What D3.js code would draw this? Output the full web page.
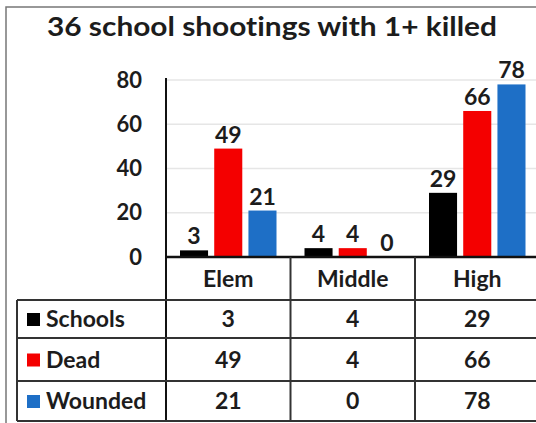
<!DOCTYPE html>
<html><head><meta charset="utf-8">
<script src="https://cdn.jsdelivr.net/npm/d3@7"></script>
<style>
html,body{margin:0;padding:0;background:#fff;}
svg{display:block;}
text{font-family:Lato,"Open Sans",sans-serif;font-weight:bold;fill:#1c1c1c;font-variant-ligatures:none;font-feature-settings:"liga" 0;}
</style></head>
<body>
<svg id="c" width="536" height="423"></svg>
<script>
const title = "36 school shootings with 1+ killed";
const categories = ["Elem", "Middle", "High"];
const seriesNames = ["Schools", "Dead", "Wounded"];
const schools = [3, 4, 29];
const dead = [49, 4, 66];
const wounded = [21, 0, 78];
const yTicks = [0, 20, 40, 60, 80];
const colors = ["#000000", "#f40000", "#1e6fc6"];

const seriesValues = [schools, dead, wounded];
const svg = d3.select("#c");

// outer frame
svg.append("path").attr("d","M6,423 V7 H536").attr("fill","none").attr("stroke","#777").attr("stroke-width",1.5);

// title
svg.append("text").attr("x",272).attr("y",36).attr("text-anchor","middle")
  .attr("font-size",27).attr("textLength",450).attr("lengthAdjust","spacingAndGlyphs").text(title);

const x0 = d3.scaleBand().domain(categories).range([166, 539.5]).padding(0);
const x1 = d3.scaleBand().domain(seriesNames).range([14, 110.5]).paddingInner(0.18).paddingOuter(0);
const y = d3.scaleLinear().domain([0, 80]).range([257, 80]);

// gridlines
svg.append("g").selectAll("line").data(yTicks.filter(d=>d>0)).join("line")
  .attr("x1",166).attr("x2",536).attr("y1",d=>y(d)).attr("y2",d=>y(d))
  .attr("stroke","#e6e6e6").attr("stroke-width",1.5);

// y axis via d3.axisLeft
const yAxis = svg.append("g").attr("transform","translate(166,0)")
  .call(d3.axisLeft(y).tickValues(yTicks).tickSize(0).tickPadding(24));
yAxis.select(".domain").remove();
yAxis.selectAll("text").attr("font-size",22).attr("font-family","Lato,'Open Sans',sans-serif").attr("font-weight","bold").attr("fill","#1c1c1c");

// bars
const rows = [];
categories.forEach((c,i)=>seriesNames.forEach((s,j)=>rows.push({c,s,v:seriesValues[j][i],j})));
svg.append("g").selectAll("rect").data(rows).join("rect")
  .attr("x",d=>x0(d.c)+x1(d.s)).attr("width",x1.bandwidth())
  .attr("y",d=>y(d.v)).attr("height",d=>y(0)-y(d.v))
  .attr("fill",d=>colors[d.j]);
svg.append("g").selectAll("text").data(rows).join("text")
  .attr("x",d=>x0(d.c)+x1(d.s)+x1.bandwidth()/2).attr("y",d=>y(d.v)-6)
  .attr("text-anchor","middle").attr("font-size",23).text(d=>d.v);

// axis lines
svg.append("line").attr("x1",166).attr("x2",166).attr("y1",78).attr("y2",421).attr("stroke","#111").attr("stroke-width",2);
svg.append("line").attr("x1",165).attr("x2",536).attr("y1",y(0)).attr("y2",y(0)).attr("stroke","#111").attr("stroke-width",2.5);

// table
const rowY = [300, 338, 381, 421];
rowY.forEach(ry=>svg.append("line").attr("x1",17).attr("x2",536).attr("y1",ry).attr("y2",ry).attr("stroke","#333").attr("stroke-width",2));
svg.append("line").attr("x1",17).attr("x2",17).attr("y1",300).attr("y2",421).attr("stroke","#333").attr("stroke-width",2);
categories.slice(1).forEach(c=>svg.append("line").attr("x1",x0(c)).attr("x2",x0(c)).attr("y1",257).attr("y2",421).attr("stroke","#333").attr("stroke-width",2));

// category labels
svg.append("g").selectAll("text").data(categories).join("text")
  .attr("x",d=>x0(d)+x0.bandwidth()/2).attr("y",287).attr("text-anchor","middle").attr("font-size",23).text(d=>d);

// table rows
seriesNames.forEach((s,j)=>{
  const cy = (rowY[j]+rowY[j+1])/2;
  svg.append("rect").attr("x",27).attr("y",cy-6).attr("width",13).attr("height",13).attr("fill",colors[j]);
  svg.append("text").attr("x",46).attr("y",cy+8).attr("font-size",23).text(s);
  svg.append("g").selectAll("text").data(categories).join("text")
    .attr("x",d=>x0(d)+x0.bandwidth()/2).attr("y",cy+8).attr("text-anchor","middle").attr("font-size",23)
    .text((d,i)=>seriesValues[j][i]);
});
</script>
</body></html>
